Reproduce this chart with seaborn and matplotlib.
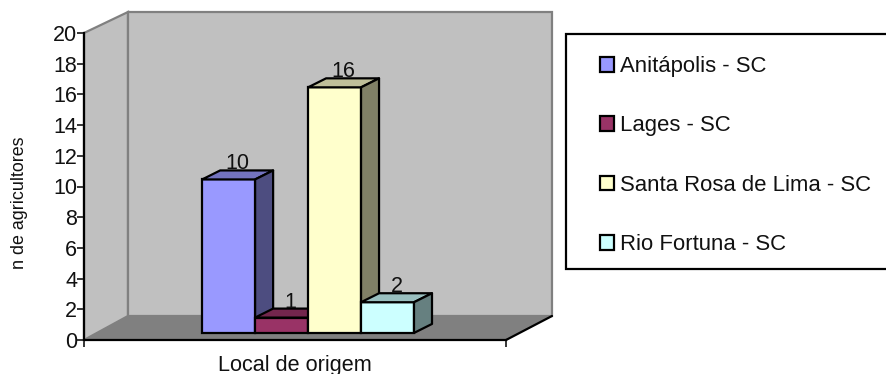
import matplotlib
matplotlib.use("Agg")
import matplotlib.pyplot as plt
from matplotlib.patches import Polygon, Rectangle
from matplotlib.colors import to_rgb
import pandas as pd
import seaborn as sns

# Chart values
localidades = ["Anitápolis - SC", "Lages - SC", "Santa Rosa de Lima - SC", "Rio Fortuna - SC"]
agricultores = [10, 1, 16, 2]
cores = ["#9999FF", "#993366", "#FFFFCC", "#CCFFFF"]
y_ticks = list(range(0, 21, 2))

W, H = 886, 374
AX_L, AX_R, AX_B, AX_T = 84, 506, 340, 33   # plot box in pixels

sns.set_theme(style="white")
plt.rcParams["font.family"] = ["Liberation Sans", "DejaVu Sans"]

fig = plt.figure(figsize=(W / 100, H / 100), dpi=100, facecolor="white")
ax = fig.add_axes([AX_L / W, 1 - AX_B / H, (AX_R - AX_L) / W, (AX_B - AX_T) / H])

df = pd.DataFrame({"grupo": [""] * 4, "local": localidades, "n": agricultores})
base = 0.46  # bars stand slightly in front of the axis on the floor
sns.barplot(data=df, x="grupo", y="n", hue="local", hue_order=localidades,
            palette=cores, width=0.502, gap=0, saturation=1, legend=False,
            bottom=base, edgecolor="black", linewidth=1.6, ax=ax, zorder=5)

ax.set_xlim(-0.531, 0.469)
ax.set_ylim(0, 20)
px_x = 1.0 / (AX_R - AX_L)                  # x data units per pixel
px_y = 20.0 / (AX_B - AX_T)                 # y data units per pixel
x0, x1 = ax.get_xlim()


def shade(color, k):
    return tuple(c * k for c in to_rgb(color))


# Box walls and floor
wall_dx, wall_dy = 44 * px_x, 24 * px_y
gray_edge = "#808080"
wall = dict(facecolor="#C0C0C0", edgecolor=gray_edge, linewidth=1.6, clip_on=False, zorder=1)
ax.add_patch(Polygon([(x0, 0), (x0, 20), (x0 + wall_dx, 20 + 21 * px_y), (x0 + wall_dx, wall_dy)], **wall))
ax.add_patch(Polygon([(x0 + wall_dx, wall_dy), (x0 + wall_dx, 20 + 21 * px_y),
                      (x1 + wall_dx + 2 * px_x, 20 + 21 * px_y), (x1 + wall_dx + 2 * px_x, wall_dy)], **wall))
ax.add_patch(Polygon([(x0, 0), (x0 + wall_dx, wall_dy), (x1 + wall_dx + 2 * px_x, wall_dy), (x1, 0)],
                     facecolor="#808080", edgecolor="none", clip_on=False, zorder=2))
ax.plot([x1, x1 + wall_dx + 2 * px_x], [0, wall_dy], color="black", lw=1.6, clip_on=False, zorder=3)

# Depth faces of each bar, painted left to right so nearer bars overlap
dx, dy = 18 * px_x, 9 * px_y
handles = []
for i, (container, valor, cor) in enumerate(zip(ax.containers, agricultores, cores)):
    bar = container[0]
    handles.append(bar)
    z = 5 + i
    bar.set_zorder(z)
    xa, xb = bar.get_x(), bar.get_x() + bar.get_width()
    yb, yt = base, base + valor
    style = dict(edgecolor="black", linewidth=1.6, joinstyle="round", clip_on=False, zorder=z)
    ax.add_patch(Polygon([(xa, yt), (xb, yt), (xb + dx, yt + dy), (xa + dx, yt + dy)],
                         facecolor=shade(cor, 0.75), **style))
    ax.add_patch(Polygon([(xb, yb), (xb, yt), (xb + dx, yt + dy), (xb + dx, yb + dy)],
                         facecolor=shade(cor, 0.5), **style))
    ax.text((xa + xb) / 2 + dx / 2, yt + dy + 1 * px_y, str(valor), ha="center", va="baseline",
            fontsize=15.5, color="#111111", zorder=20)

# Axes
sns.despine(ax=ax, top=True, right=True)
for side in ("left", "bottom"):
    ax.spines[side].set_linewidth(1.6)
    ax.spines[side].set_color("black")
    ax.spines[side].set_zorder(4)
ax.set_facecolor("none")
ax.set_yticks(y_ticks)
ax.set_xticks([x0, x1], ["", ""])
ax.tick_params(axis="both", length=5, width=1.1, color="black", left=True, bottom=True)
ax.tick_params(axis="y", labelsize=15.5, labelcolor="#111111", pad=0)
ax.set_ylabel("n de agricultores", fontsize=12.9, color="#111111", va="center")
ax.yaxis.set_label_coords(-(AX_L - 20) * px_x, (AX_B - 203) / (AX_B - AX_T))
ax.set_xlabel("Local de origem", fontsize=15.6, color="#111111", va="center")
ax.xaxis.set_label_coords(0.5, -(365 - AX_B) / (AX_B - AX_T))

# Legend box runs past the right edge of the figure
fig.add_artist(Rectangle((566 / W, 1 - 269 / H), 340 / W, 235 / H, transform=fig.transFigure,
                         facecolor="white", edgecolor="black", linewidth=1.6))
leg = fig.legend(handles, localidades, loc="upper left",
                 bbox_to_anchor=(600 / W, 1 - 56 / H), frameon=False, fontsize=15.9,
                 labelspacing=1.74, handlelength=0.64, handleheight=0.64,
                 handletextpad=0.27, borderpad=0, borderaxespad=0, labelcolor="#111111")
for h in leg.legend_handles:
    h.set_edgecolor("black")
    h.set_linewidth(1.6)

fig.savefig("out.png", dpi=100)
